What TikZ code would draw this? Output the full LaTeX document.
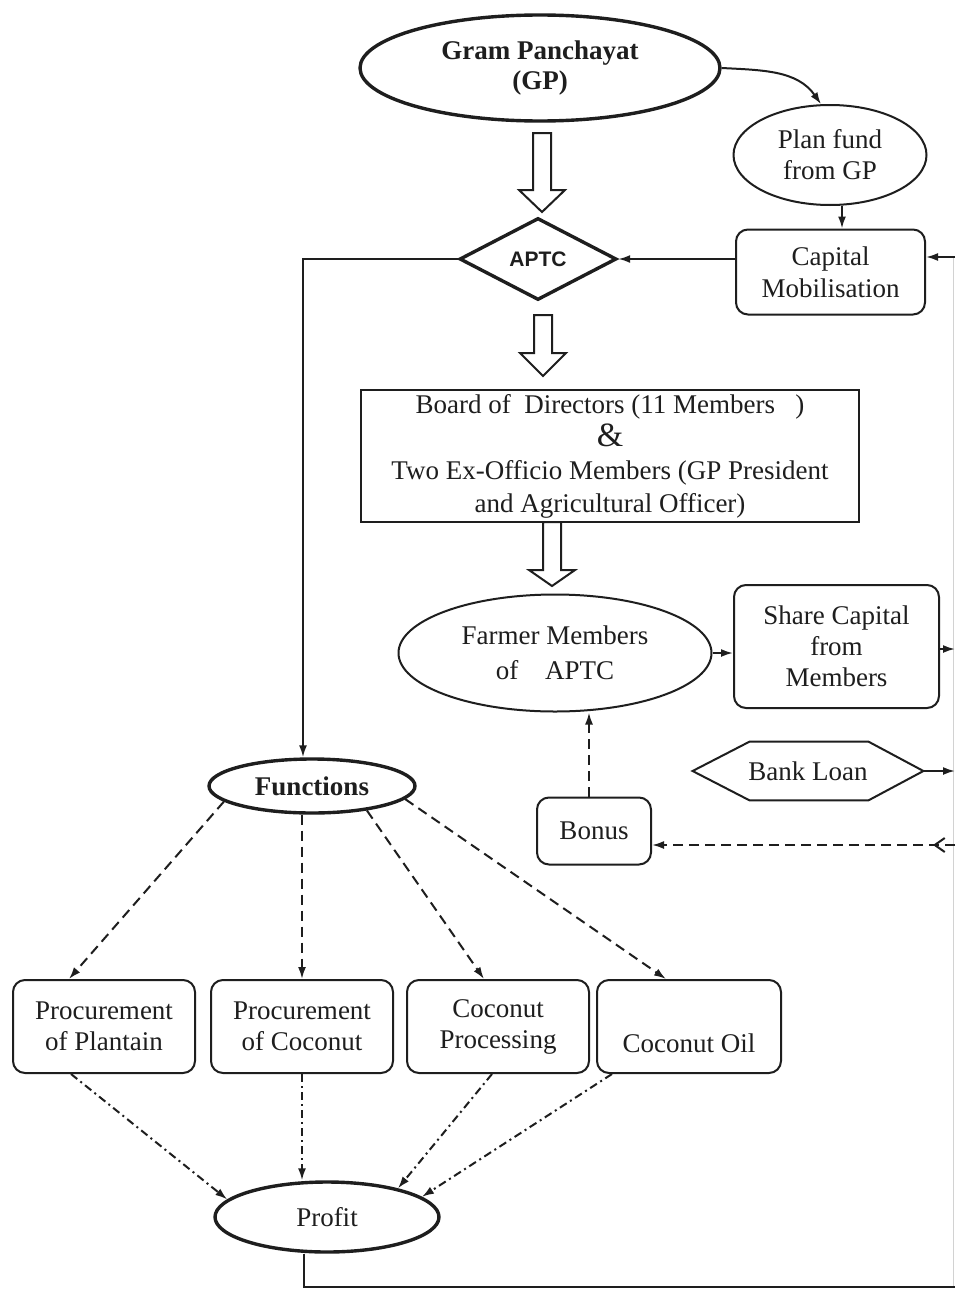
\documentclass[tikz,border=0pt]{standalone}
\usepackage{fontspec}
\setmainfont{Liberation Serif}
\newfontfamily\sansbold{Liberation Sans}
\usetikzlibrary{arrows.meta,shapes.geometric,decorations.markings,calc}
\definecolor{ink}{HTML}{1e1e1e}
\newcommand\hollowarr[4]{%
  \draw[hollow] (#1-9,#2) -- (#1+9,#2) -- (#1+9,#3) -- (#1+23,#3) -- (#1,#4) -- (#1-23,#3) -- (#1-9,#3) -- cycle;}
\begin{document}
\begin{tikzpicture}[x=0.5pt,y=-0.5pt,
  every node/.style={font=\fontsize{13.5}{15.5}\selectfont, text=ink, align=center, inner sep=0pt},
  ln/.style={draw=ink, line width=1pt},
  thk/.style={draw=ink, line width=1.7pt},
  rbox/.style={ln, rounded corners=6pt, minimum width=#1},
  ell/.style={ln, ellipse},
  arr/.style={ln, -{Latex[length=6pt,width=4pt]}},
  dsh/.style={arr, dash pattern=on 5pt off 3pt},
  dshdot/.style={arr, dash pattern=on 4pt off 2pt on 1pt off 2pt},
  hollow/.style={ln, fill=white, line join=miter},
  barb/.style={decoration={markings, mark=at position 11pt with {\arrow{Straight Barb[length=5pt,width=7pt,line width=1pt]}}}, postaction={decorate}},
]
\useasboundingbox (0,0) rectangle (955,1290);
\fill[white] (0,0) rectangle (955,1290);

% nodes
\node[thk, ellipse, minimum width=180pt, minimum height=53pt, font=\bfseries\fontsize{13.5}{15}\selectfont] (gp) at (540,68) {Gram Panchayat\\(GP)};
\node[ell, minimum width=96.5pt, minimum height=50pt] (pf) at (830,155) {Plan fund\\from GP};
\node[rbox=94.5pt, minimum height=42.5pt, font=\fontsize{13.5}{16}\selectfont] (cm) at (830.5,272) {Capital\\Mobilisation};
\node[thk, diamond, minimum width=78.5pt, minimum height=41pt, font=\sansbold\bfseries\fontsize{10.5}{12}\selectfont] (ap) at (538,259) {APTC};
\node[ln, minimum width=249pt, minimum height=66pt, font=\fontsize{13.5}{16.5}\selectfont] (bd) at (610,456)
  {Board of\enspace Directors (11 Members\enspace\ )\\{\fontsize{17}{16.5}\selectfont\&}\\Two Ex-Officio Members (GP President\\and Agricultural Officer)};
\node[ell, minimum width=156.5pt, minimum height=58.5pt, font=\fontsize{13.5}{17.5}\selectfont] (fm) at (555,653) {Farmer Members\\of\quad APTC};
\node[rbox=102.5pt, minimum height=61.5pt] (sc) at (836.5,646.5) {Share Capital\\from\\Members};
\node[minimum width=115pt, minimum height=29pt] (bl) at (808,771) {Bank Loan};
\node[rbox=57pt, minimum height=33.5pt] (bo) at (594,831) {Bonus};
\node[thk, ellipse, minimum width=103pt, minimum height=27pt, font=\bfseries\fontsize{13.5}{15.5}\selectfont] (fn) at (312,786) {Functions};
\node[rbox=91pt, minimum height=46.5pt] (b1) at (104,1026.5) {Procurement\\of Plantain};
\node[rbox=91pt, minimum height=46.5pt] (b2) at (302,1026.5) {Procurement\\of Coconut};
\node[rbox=91pt, minimum height=46.5pt] (b3) at (498,1026.5) {Coconut\\Processing};
\node[rbox=92pt, minimum height=46.5pt] (b4) at (689,1026.5) {\strut\\Coconut Oil};
\node[thk, ellipse, minimum width=112pt, minimum height=35pt] (pr) at (327,1217) {Profit};

% hexagon of Bank Loan
\draw[ln] (bl.west) -- ([xshift=28.5pt]bl.north west) -- ([xshift=-27.5pt]bl.north east) -- (bl.east)
  -- ([xshift=-27.5pt]bl.south east) -- ([xshift=28.5pt]bl.south west) -- cycle;

% free ends at the right edge
\coordinate (e1) at (955,257);
\coordinate (e2) at (955,649);
\coordinate (e3) at (955,771);
\coordinate (e4) at (955,845);
\coordinate (e5) at (955,1287);
\coordinate (c1) at (303,259);
\coordinate (c2) at (304,1287);

\draw[gray!35, line width=0.5pt] (953,257) -- (953,1287);

% hollow arrows
\hollowarr{542}{133}{190}{212}
\hollowarr{543}{315}{353}{376}
\hollowarr{552}{522}{570}{586}

% connectors
\draw[arr] (gp.east) to[out=-3,in=125] (pf.100);
\draw[arr] ([xshift=6pt]pf.south) -- ([xshift=6pt]pf.south |- cm.north);
\draw[arr] (e1) -- (e1 -| cm.east);
\draw[arr] (cm.west |- ap.east) -- (ap.east);
\draw[arr] (ap.west) -- (c1) -- (c1 |- fn.north);
\draw[arr] (fm.east) -- (fm.east -| sc.west);
\draw[arr] (sc.east |- e2) -- (e2);
\draw[arr] (bl.east) -- (e3);
\draw[dsh] ([xshift=-2.5pt]bo.north) -- ([xshift=-2.5pt]bo.north |- fm.south);
\draw[dsh, barb] (e4) -- (e4 -| bo.east);

\draw[dsh] (fn.190) -- ([xshift=-17.5pt]b1.north);
\draw[dsh] (b2.north |- fn.south) -- (b2.north);
\draw[dsh] (fn.-24) -- ([xshift=-7pt]b3.north);
\draw[dsh] (fn.-8) -- ([xshift=-11.5pt]b4.north);

\draw[dshdot] ([xshift=-16.5pt]b1.south) -- (pr.170);
\draw[dshdot] (b2.south) -- (b2.south |- pr.north);
\draw[dshdot] ([xshift=-3pt]b3.south) -- (pr.22);
\draw[dshdot] ([xshift=-38.5pt]b4.south) -- (pr.12);

\draw[ln] (pr.south -| c2) -- (c2) -- (e5);
\end{tikzpicture}
\end{document}
